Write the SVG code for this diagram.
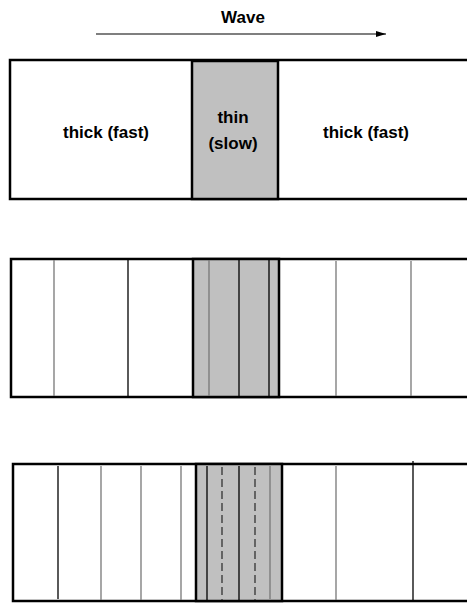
<svg xmlns="http://www.w3.org/2000/svg" width="467" height="603" viewBox="0 0 467 603">
<style>
text{font-family:"Liberation Sans",Arial,sans-serif;font-weight:bold;font-size:17px;fill:#000;text-anchor:middle}
.box{fill:#fff;stroke:#000;stroke-width:2.5}
.slab{fill:#c0c0c0;stroke:#000;stroke-width:2.5}
.k{stroke:#000;stroke-width:1.3}
.g{stroke:#777;stroke-width:1.3}
.d{stroke:#333;stroke-width:1.3;stroke-dasharray:8,4}
</style>
<defs>
<marker id="ah" markerWidth="10" markerHeight="6" refX="10" refY="3" orient="auto" markerUnits="userSpaceOnUse">
<path d="M0,0 L10,3 L0,6 Z" fill="#000"/>
</marker>
</defs>
<g id="wave">
<text x="243" y="23">Wave</text>
</g>
<g id="connectors">
<line x1="96" y1="34" x2="386" y2="34" stroke="#000" stroke-width="1.2" marker-end="url(#ah)"/>
</g>
<g id="panel1">
<rect class="box" x="10" y="60" width="470" height="139"/>
<rect class="slab" x="192" y="61" width="86" height="138"/>
<text x="106" y="138">thick (fast)</text>
<text x="233" y="123">thin</text>
<text x="233" y="149">(slow)</text>
<text x="366" y="138">thick (fast)</text>
</g>
<g id="panel2">
<rect class="box" x="11" y="259" width="470" height="138"/>
<rect class="slab" x="193" y="259" width="86" height="138"/>
<line class="g" x1="54" y1="260" x2="54" y2="396"/>
<line class="k" x1="128" y1="260" x2="128" y2="396"/>
<line class="g" x1="209" y1="260" x2="209" y2="396"/>
<line class="k" x1="239" y1="260" x2="239" y2="396"/>
<line class="k" x1="269" y1="260" x2="269" y2="396"/>
<line class="g" x1="336" y1="261" x2="336" y2="396"/>
<line class="g" x1="411" y1="261" x2="411" y2="396"/>
</g>
<g id="panel3">
<rect class="box" x="13" y="464" width="470" height="137"/>
<rect class="slab" x="196" y="464" width="86" height="137"/>
<line class="k" x1="58" y1="466" x2="58" y2="599"/>
<line class="g" x1="101" y1="466" x2="101" y2="600"/>
<line class="g" x1="141" y1="466" x2="141" y2="600"/>
<line class="g" x1="181" y1="466" x2="181" y2="600"/>
<line class="k" x1="207" y1="466" x2="207" y2="600"/>
<line class="d" x1="222" y1="467" x2="222" y2="600"/>
<line class="k" x1="239" y1="466" x2="239" y2="600"/>
<line class="d" x1="255" y1="467" x2="255" y2="600"/>
<line class="g" x1="270" y1="466" x2="270" y2="599"/>
<line class="g" x1="336" y1="466" x2="336" y2="600"/>
<line class="k" x1="413" y1="461" x2="413" y2="600"/>
</g>
</svg>
